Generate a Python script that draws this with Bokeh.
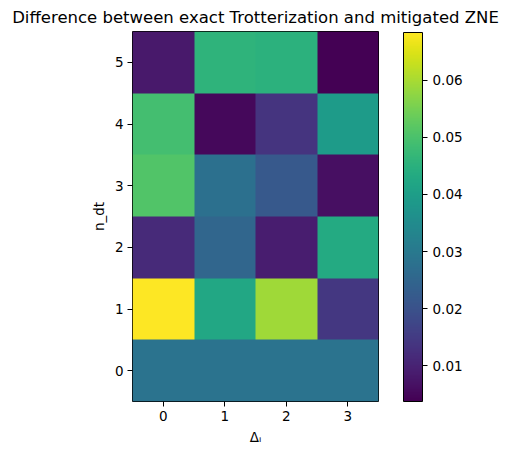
import numpy as np
from bokeh.plotting import figure
from bokeh.models import LinearColorMapper, ColorBar, FixedTicker, PrintfTickFormatter
from bokeh.palettes import Viridis256
from bokeh.embed import file_html
from bokeh.resources import INLINE

# Difference |exact - ZNE| per (n_dt, Delta_i); one list per n_dt row
delta_ticks = [0, 1, 2, 3]
ndt_ticks = [0, 1, 2, 3, 4, 5]
row_ndt0 = [0.0283, 0.0283, 0.0283, 0.0283]
row_ndt1 = [0.0684, 0.0425, 0.0593, 0.0141]
row_ndt2 = [0.0115, 0.0251, 0.0089, 0.0432]
row_ndt3 = [0.0509, 0.0276, 0.0218, 0.0063]
row_ndt4 = [0.0490, 0.0050, 0.0134, 0.0393]
row_ndt5 = [0.0082, 0.0458, 0.0454, 0.0037]
cbar_ticks = [0.01, 0.02, 0.03, 0.04, 0.05, 0.06]

grid = np.array([row_ndt0, row_ndt1, row_ndt2, row_ndt3, row_ndt4, row_ndt5])

FONT = "DejaVu Sans"

p = figure(width=510, height=457, output_backend="svg", toolbar_location=None,
           x_range=(-0.5, 3.5), y_range=(-0.5, 5.5),
           title="Difference between exact Trotterization and mitigated ZNE")
p.min_border_left = 132
p.min_border_top = 30
p.min_border_bottom = 56
p.min_border_right = 132

mapper = LinearColorMapper(palette=Viridis256, low=grid.min(), high=grid.max())
p.image(image=[grid], x=-0.5, y=-0.5, dw=4, dh=6, color_mapper=mapper)

p.grid.visible = False
p.outline_line_color = "black"
p.outline_line_width = 1
p.background_fill_color = "white"

p.title.align = "center"
p.title.text_font = FONT
p.title.text_font_size = "16.5px"
p.title.text_font_style = "normal"
p.title.text_color = "black"

p.xaxis.ticker = FixedTicker(ticks=delta_ticks)
p.yaxis.ticker = FixedTicker(ticks=ndt_ticks)
p.xaxis.axis_label = "Δᵢ"
p.yaxis.axis_label = "n_dt"
for ax in (p.xaxis[0], p.yaxis[0]):
    ax.axis_line_color = None
    ax.major_tick_in = 0
    ax.major_tick_out = 5
    ax.minor_tick_line_color = None
    ax.major_tick_line_color = "black"
    ax.major_label_text_font = FONT
    ax.major_label_text_font_size = "13.5px"
    ax.major_label_text_color = "black"
    ax.axis_label_text_font = FONT
    ax.axis_label_text_font_size = "13.5px"
    ax.axis_label_text_font_style = "normal"
    ax.axis_label_text_color = "black"
    ax.major_label_standoff = 4
    ax.axis_label_standoff = 5
p.yaxis.major_label_orientation = "horizontal"

cbar = ColorBar(color_mapper=mapper, width=19, height=369, margin=0, padding=0,
                location=(25, 0),
                ticker=FixedTicker(ticks=cbar_ticks),
                formatter=PrintfTickFormatter(format="%.2f"),
                major_tick_in=0, major_tick_out=5,
                major_tick_line_color="black",
                bar_line_color="black", bar_line_width=1,
                border_line_color=None, background_fill_alpha=0,
                label_standoff=5,
                major_label_text_font=FONT,
                major_label_text_font_size="13.5px",
                major_label_text_color="black")
p.add_layout(cbar, "right")

open("out.html", "w").write(file_html(p, INLINE))
